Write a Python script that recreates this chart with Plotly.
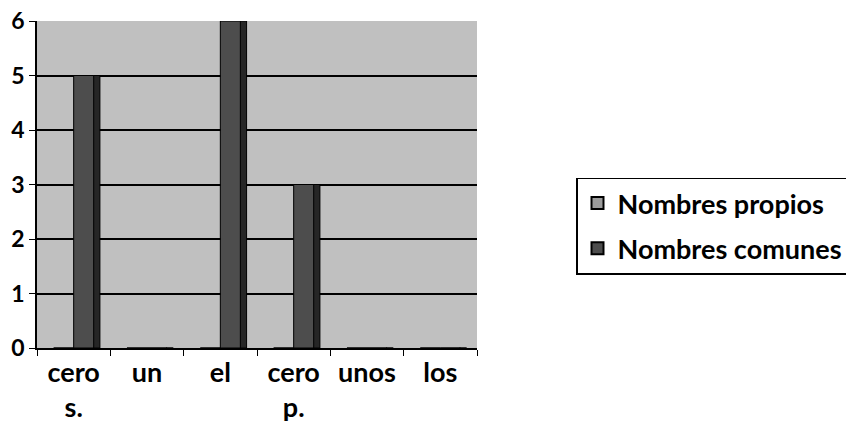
import plotly.graph_objects as go

categories = ["cero<br>s.", "un", "el", "cero<br>p.", "unos", "los"]
propios = [0, 0, 0, 0, 0, 0]
comunes = [5, 0, 6, 3, 0, 0]
y_ticks = [0, 1, 2, 3, 4, 5, 6]

FONT = "Lato, 'Open Sans', Arial, sans-serif"
bw = 0.273
depth = 0.095

fig = go.Figure()
fig.add_trace(go.Bar(
    x=categories, y=propios, name="Nombres propios", legendgroup="a",
    marker=dict(color="#9C9C9C", line=dict(color="black", width=1)),
    width=bw, offset=-bw,
))
# side faces (3D depth effect) drawn from the same values
fig.add_trace(go.Bar(
    x=categories, y=comunes, showlegend=False, hoverinfo="skip", legendgroup="b",
    marker=dict(color="#262626", line=dict(color="black", width=1)),
    width=depth, offset=bw - 0.01,
))
fig.add_trace(go.Bar(
    x=categories, y=comunes, name="Nombres comunes", legendgroup="b",
    marker=dict(color="#4D4D4D", line=dict(color="black", width=1)),
    width=bw, offset=0,
))

fig.update_layout(
    width=846, height=435,
    margin=dict(l=37, r=369, t=21, b=87, autoexpand=False),
    paper_bgcolor="white",
    plot_bgcolor="#C0C0C0",
    barmode="overlay",
    font=dict(family=FONT, size=24, color="black"),
    showlegend=True,
    legend=dict(
        x=1.225, y=0.373, xanchor="left", yanchor="middle",
        bgcolor="white", bordercolor="black", borderwidth=1.5,
        font=dict(family=FONT, size=27, color="black", weight="bold"),
        tracegroupgap=7, itemsizing="constant",
    ),
)
fig.update_xaxes(
    automargin=False,
    showline=True, linecolor="black", linewidth=1.5,
    ticks="outside", tickson="boundaries", ticklen=6, tickcolor="black",
    tickfont=dict(family=FONT, size=27, color="black", weight="bold"),
    showgrid=False,
)
fig.update_yaxes(
    automargin=False, ticklabeloverflow="allow",
    range=[0, 6], tickvals=y_ticks,
    showline=True, linecolor="black", linewidth=1.5,
    ticks="outside", ticklen=6, tickcolor="black",
    tickfont=dict(family=FONT, size=23, color="black", weight="bold"),
    showgrid=True, gridcolor="black", gridwidth=1.5,
    zeroline=False,
)

fig.write_html(
    "out.html",
    config={"displayModeBar": False},
    post_script="document.body.style.margin='0';document.body.style.overflow='hidden';",
)
